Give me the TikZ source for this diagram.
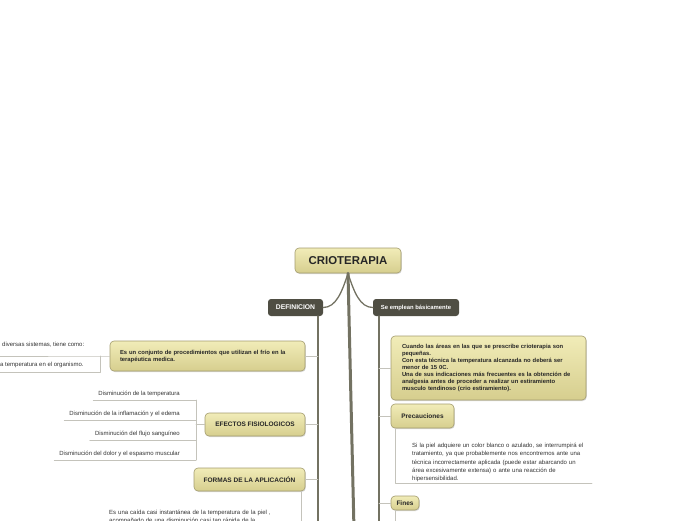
\documentclass[tikz,border=0pt]{standalone}
\usepackage{fontspec}
\setmainfont{Liberation Sans}
\usetikzlibrary{shadows}
\definecolor{boxtop}{HTML}{F1ECB8}
\definecolor{boxbot}{HTML}{D6CE8E}
\definecolor{boxedge}{HTML}{A39C6E}
\definecolor{darkbox}{HTML}{4F4E43}
\definecolor{trunkcol}{HTML}{737262}
\definecolor{twigcol}{HTML}{C4C3BB}
\tikzset{
  topic/.style={draw=boxedge,line width=0.6pt,rounded corners=4pt,top color=boxtop,bottom color=boxbot,
    drop shadow={shadow xshift=0.8pt,shadow yshift=-1pt,opacity=0.3},
    text=black!85,inner sep=0pt,font=\bfseries\fontsize{6.5}{7}\selectfont},
  darktopic/.style={fill=darkbox,rounded corners=3pt,text=white,inner sep=0pt,
    font=\bfseries\fontsize{6.8}{7}\selectfont},
  trunk/.style={draw=trunkcol,line width=1.3pt},
  twig/.style={draw=twigcol,line width=0.8pt},
  leaf/.style={text=black!80,inner sep=0pt,font=\fontsize{6}{8.2}\selectfont}
}
\begin{document}
\begin{tikzpicture}[x=1pt,y=-1pt,line cap=round,line join=round]
	\clip (0,0) rectangle (696,520);
	% main topic
	\node[topic,minimum width=106pt,minimum height=25pt,inner xsep=0pt,font=\bfseries\fontsize{11.4}{12}\selectfont] (root) at (348,260.5) {CRIOTERAPIA\hspace{8pt}};
	\coordinate (bottom) at (354,530);
	\draw[trunkcol,line width=3pt] (root.south) -- (bottom);
	\node[darktopic,minimum width=55pt,minimum height=17pt] (defn) at (295.5,307.5) {DEFINICION};
	\node[darktopic,minimum width=86pt,minimum height=17pt,font=\bfseries\fontsize{5.9}{6}\selectfont] (empl) at (416,307.5) {Se emplean básicamente};
	\draw[trunk] (root.south) .. controls (342,292) and (336,307.5) .. (defn.east);
	\draw[trunk] (root.south) .. controls (354,292) and (360,307.5) .. (empl.west);
	% left branch
	\coordinate (tl) at (318,316);
	\coordinate (tlend) at (318,525);
	\draw[trunk] (tl) -- (tlend);
	\node[topic,minimum width=195pt,minimum height=30pt,text width=175pt,inner xsep=10pt,align=left,font=\bfseries\fontsize{5.85}{7}\selectfont] (conj) at (207.5,356) {Es un conjunto de procedimientos que utilizan el frío en la\\terapéutica medica.};
	\node[topic,minimum width=100pt,minimum height=23pt] (efectos) at (255,424.5) {EFECTOS FISIOLOGICOS};
	\node[topic,minimum width=111pt,minimum height=23pt] (formas) at (249.5,479.5) {FORMAS DE LA APLICACIÓN};
	\draw[twig] (conj.east) -- (conj.east -| tl);
	\draw[twig] (efectos.east) -- (efectos.east -| tl);
	\draw[twig] (formas.east) -- (formas.east -| tl);
	% under the definition
	\coordinate (lft) at (-5,0);
	\coordinate (cb1) at (100,356);
	\coordinate (cb2) at (100,372);
	\draw[twig] (conj.west) -- (cb1) -- (cb1 -| lft);
	\draw[twig] (cb1) -- (cb2) -- (cb2 -| lft);
	\node[leaf,anchor=west] (c1) at (2,345) {diversas sistemas, tiene como:};
	\node[leaf,anchor=west] (c2) at (0,364.5) {a temperatura en el organismo.};
	% physiological effects
	\coordinate (eb1) at (196,400);
	\coordinate (eb4) at (196,460);
	\draw[twig] (efectos.west) -- (efectos.west -| eb1);
	\draw[twig] (eb1) -- (eb4);
	\foreach \n/\y/\t in {e1/394/{Disminución de la temperatura},
	                      e2/414/{Disminución de la inflamación y el edema},
	                      e3/434/{Disminución del flujo sanguíneo},
	                      e4/454/{Disminución del dolor y el espasmo muscular}}{
		\node[leaf,anchor=east] (\n) at (180,\y) {\t};
		\coordinate (u) at (196,\y+6);
		\draw[twig] (u) -- ([xshift=-5pt]\n.west |- u);
	}
	% forms of application
	\draw[twig] ([xshift=-4pt]formas.south east) -- ++(0,40);
	\node[leaf,anchor=north west,text width=200pt,align=left,font=\fontsize{6}{8}\selectfont] (caida) at (109,509.5) {Es una caída casi instantánea de la temperatura de la piel ,\\acompañado de una disminución casi tan rápida de la};
	% right branch
	\coordinate (tr) at (379,316);
	\coordinate (trend) at (379,525);
	\draw[trunk] (tr) -- (trend);
	\node[topic,minimum width=195pt,minimum height=64pt,text width=173pt,inner xsep=11pt,align=left,font=\bfseries\fontsize{5.85}{7}\selectfont] (cuando) at (488.5,368) {Cuando las áreas en las que se prescribe crioterapia son\\pequeñas.\\Con esta técnica la temperatura alcanzada no deberá ser\\menor de 15 0C.\\Una de sus indicaciones más frecuentes es la obtención de\\analgesia antes de proceder a realizar un estiramiento\\musculo tendinoso (crio estiramiento).};
	\node[topic,minimum width=63pt,minimum height=24pt] (precau) at (422.5,416) {Precauciones};
	\node[topic,minimum width=28pt,minimum height=14pt] (fines) at (405,503) {Fines};
	\draw[twig] (cuando.west) -- (cuando.west -| tr);
	\draw[twig] (precau.west) -- (precau.west -| tr);
	\draw[twig] (fines.west) -- (fines.west -| tr);
	% precautions
	\coordinate (pr) at (592,483);
	\draw[twig] ([xshift=5pt]precau.south west) |- (pr);
	\node[leaf,anchor=north west,text width=190pt,align=left] (piel) at (412,443) {Si la piel adquiere un color blanco o azulado, se interrumpirá el\\tratamiento, ya que probablemente nos encontremos ante una\\técnica incorrectamente aplicada (puede estar abarcando un\\área excesivamente extensa) o ante una reacción de\\hipersensibilidad.};
	\draw[twig] ([xshift=5pt]fines.south west) -- ++(0,20);
\end{tikzpicture}
\end{document}
